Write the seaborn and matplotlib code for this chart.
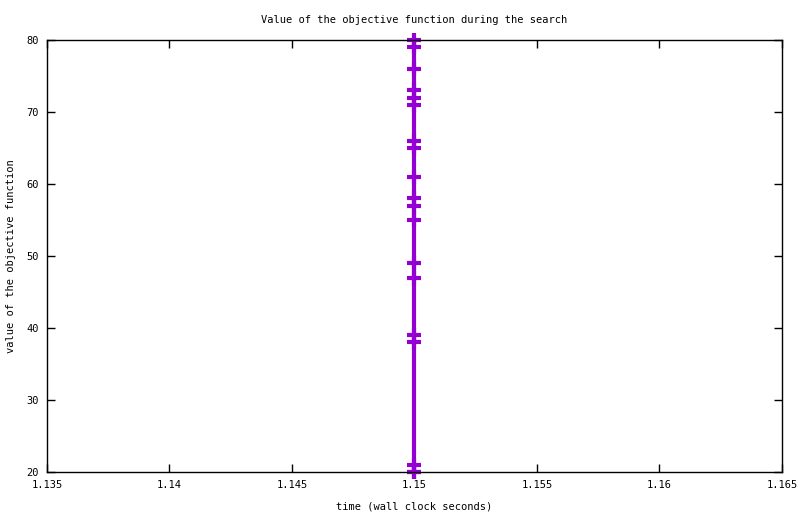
import numpy as np
import pandas as pd
import seaborn as sns
from matplotlib import pyplot as plt

# objective values recorded during the search (all at the same wall clock time)
times = [1.15] * 19
objective = [80, 79, 76, 73, 72, 71, 66, 65, 61, 58, 57, 55, 49, 47, 39, 38, 21, 20, 20]
x_ticks = [1.135, 1.14, 1.145, 1.15, 1.155, 1.16, 1.165]
y_ticks = [20, 30, 40, 50, 60, 70, 80]

df = pd.DataFrame({'time': times, 'objective': objective})

sns.set_theme(style="white")
plt.rcParams['font.family'] = ['DejaVu Sans Mono']
plt.rcParams['font.size'] = 7.5
plt.rcParams['text.color'] = 'black'
plt.rcParams['axes.labelcolor'] = 'black'

fig = plt.figure(figsize=(8, 5.14), dpi=100)
ax = fig.add_axes([47 / 800, 1 - 472 / 514, (782 - 47) / 800, (472 - 40) / 514])

sns.lineplot(data=df, x='time', y='objective', sort=False, color='#9400D3', linewidth=3,
             marker='+', markersize=10, markeredgewidth=3, markeredgecolor='#9400D3',
             ax=ax, clip_on=False, estimator=None)

ax.set_xlim(1.135, 1.165)
ax.set_ylim(20, 80)
ax.set_xticks(x_ticks)
ax.set_xticklabels([f'{t:g}' for t in x_ticks])
ax.set_yticks(y_ticks)
ax.tick_params(direction='in', length=6, width=1, top=True, right=True, bottom=True, left=True,
               labelsize=7.5, colors='black', pad=6)
for s in ax.spines.values():
    s.set_color('black')
    s.set_linewidth(1)
ax.grid(False)

ax.set_title('Value of the objective function during the search', fontsize=7.5, pad=12)
ax.set_xlabel('time (wall clock seconds)', fontsize=7.5, labelpad=8)
ax.set_ylabel('value of the objective function', fontsize=7.5, labelpad=7)

plt.savefig('out.png', dpi=100)
